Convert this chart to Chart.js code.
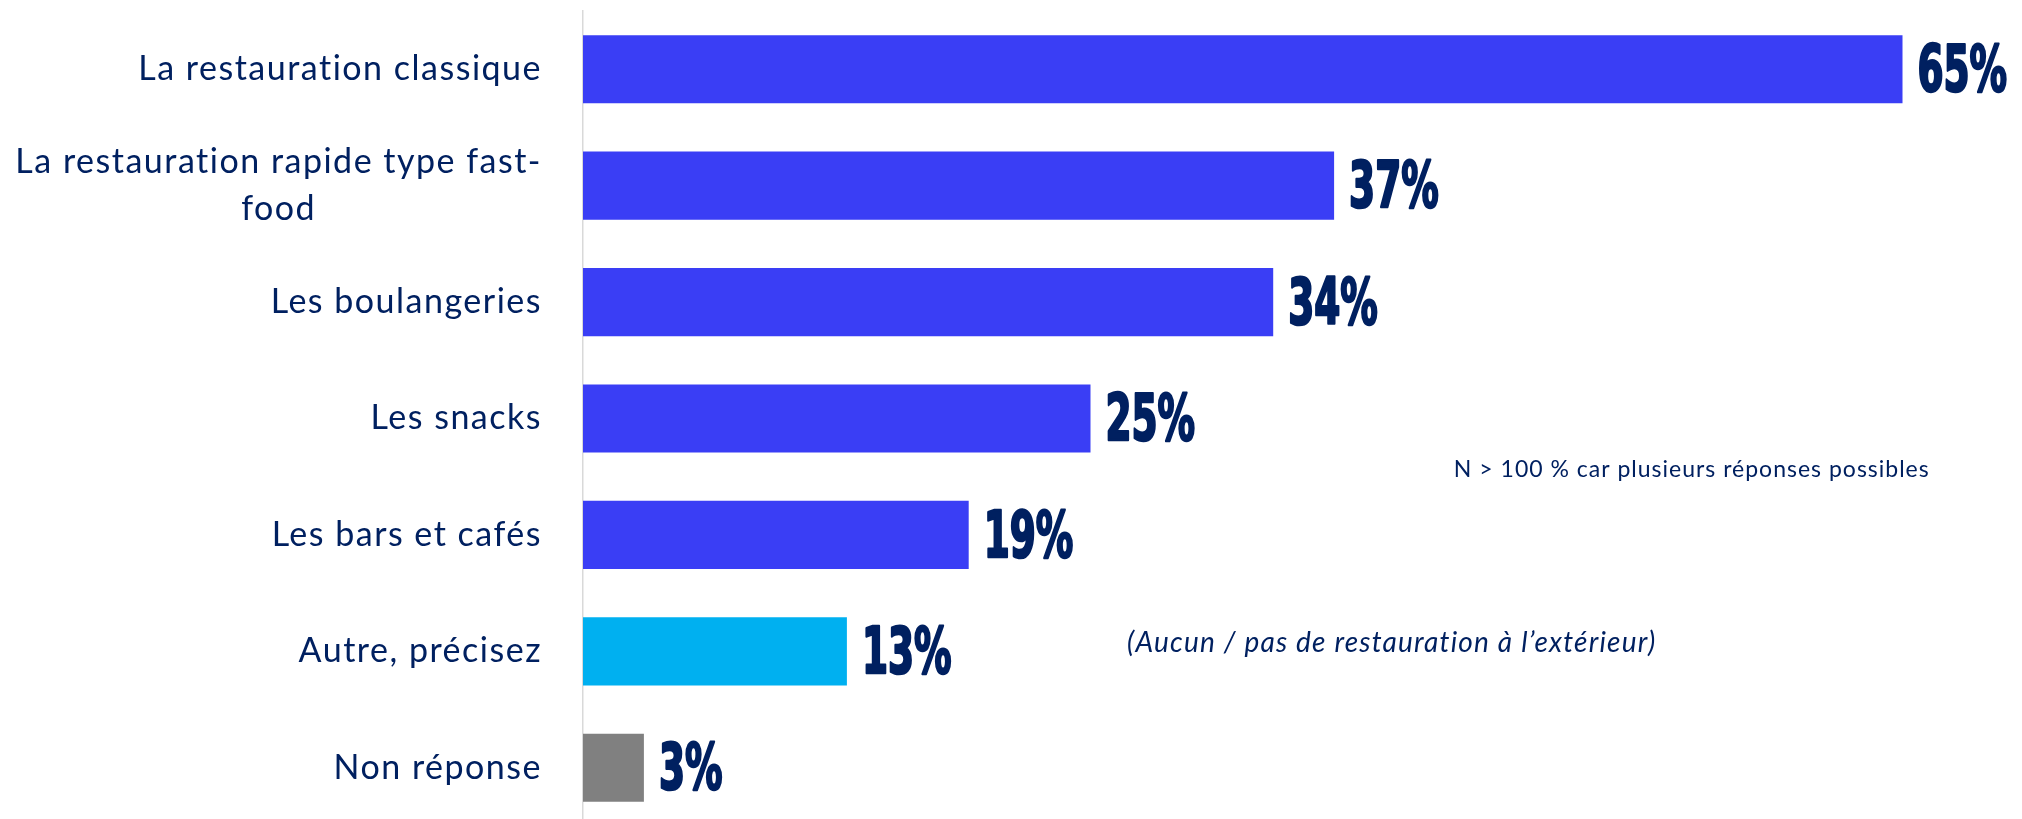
<!DOCTYPE html>
<html lang="fr">
<head>
<meta charset="utf-8">
<title>Lieux de restauration à l'extérieur</title>
<script src="https://cdn.jsdelivr.net/npm/chart.js@4/dist/chart.umd.min.js"></script>
<style>
  html, body { margin: 0; padding: 0; background: #ffffff; overflow: hidden; }
  #wrap { width: 2022px; height: 826px; position: relative; }
</style>
</head>
<body>
<div id="wrap"><canvas id="chartRestauration"></canvas></div>
<script>
// ================== DONNEES ================ //
const CATEGORIES = [
  ["La restauration classique"],
  ["La restauration rapide type fast-", "food"],
  ["Les boulangeries"],
  ["Les snacks"],
  ["Les bars et cafés"],
  ["Autre, précisez"],
  ["Non réponse"],
];
const VALEURS = [65, 37, 34, 25, 19, 13, 3];
const NOTE_MULTI = "N > 100 % car plusieurs réponses possibles";
const NOTE_AUTRE = "(Aucun / pas de restauration à l’extérieur)";

// ================== STYLES ================ //
const COULEURS_BARRES = ["#3A3EF5", "#3A3EF5", "#3A3EF5", "#3A3EF5", "#3A3EF5", "#00B0F0", "#808080"];
const BLEU_TEXTE = "#002060";
const POLICE_TEXTE = 'Lato, "Noto Sans", sans-serif';
const POLICE_VALEUR = '"Liberation Sans Narrow", "DejaVu Sans Condensed", sans-serif';

// libellés des catégories, à gauche de l'axe (lignes centrées dans le bloc)
const pluginCategories = {
  id: "categories",
  afterDraw(chart) {
    const { ctx, chartArea } = chart;
    const yScale = chart.scales.y;
    const droite = chartArea.left - 41;
    const interligne = 47;

    ctx.save();
    ctx.fillStyle = BLEU_TEXTE;
    ctx.font = "34px " + POLICE_TEXTE;
    ctx.letterSpacing = "1.5px";
    ctx.textAlign = "center";
    ctx.textBaseline = "middle";

    CATEGORIES.forEach((lignes, i) => {
      const yc = yScale.getPixelForValue(i);
      const largeur = Math.max(...lignes.map((l) => ctx.measureText(l).width));
      const xc = droite - largeur / 2;
      const y0 = yc - ((lignes.length - 1) * interligne) / 2;
      lignes.forEach((l, j) => ctx.fillText(l, xc, y0 + j * interligne));
    });
    ctx.restore();
  },
};

// valeurs au bout des barres + notes
const pluginValeurs = {
  id: "valeurs",
  afterDatasetsDraw(chart) {
    const { ctx } = chart;
    const meta = chart.getDatasetMeta(0);
    const xScale = chart.scales.x;
    const yScale = chart.scales.y;

    ctx.save();
    ctx.fillStyle = BLEU_TEXTE;
    ctx.strokeStyle = BLEU_TEXTE;
    ctx.lineWidth = 2.5;
    ctx.lineJoin = "round";
    ctx.font = "bold 64px " + POLICE_VALEUR;
    ctx.textAlign = "left";
    ctx.textBaseline = "middle";
    meta.data.forEach((bar, i) => {
      const txt = VALEURS[i] + "%";
      ctx.save();
      ctx.translate(bar.x + 15, bar.y + 5);
      ctx.scale(0.65, 1);
      ctx.fillText(txt, 0, 0);
      ctx.strokeText(txt, 0, 0);
      ctx.restore();
    });

    // notes
    ctx.font = "23px " + POLICE_TEXTE;
    ctx.letterSpacing = "1px";
    ctx.fillText(NOTE_MULTI, xScale.getPixelForValue(42.9), yScale.getPixelForValue(3.44));
    ctx.font = "italic 28px " + POLICE_TEXTE;
    ctx.letterSpacing = "1.2px";
    ctx.fillText(NOTE_AUTRE, xScale.getPixelForValue(26.8), yScale.getPixelForValue(4.93));
    ctx.restore();
  },
};

function renderChartRestauration() {
  const canvas = document.getElementById("chartRestauration");
  if (!canvas) return;

  new Chart(canvas, {
    type: "bar",
    data: {
      labels: CATEGORIES.map((c) => c.join(" ")),
      datasets: [
        {
          data: VALEURS,
          backgroundColor: COULEURS_BARRES,
          borderWidth: 0,
          categoryPercentage: 1,
          barPercentage: 0.585,
        },
      ],
    },
    options: {
      indexAxis: "y",
      responsive: true,
      maintainAspectRatio: false,
      animation: false,
      layout: {
        padding: { left: 583, right: 18, top: 11, bottom: 0 },
      },
      plugins: {
        legend: { display: false },
        tooltip: { enabled: false },
      },
      scales: {
        x: {
          display: false,
          min: 0,
          max: 70,
        },
        y: {
          grid: { display: false },
          ticks: { display: false },
          border: { display: true, color: "#D9D9D9", width: 1.5 },
          afterFit: (scale) => {
            scale.width = 0;
          },
        },
      },
    },
    plugins: [pluginCategories, pluginValeurs],
  });
}

renderChartRestauration();
</script>
</body>
</html>
